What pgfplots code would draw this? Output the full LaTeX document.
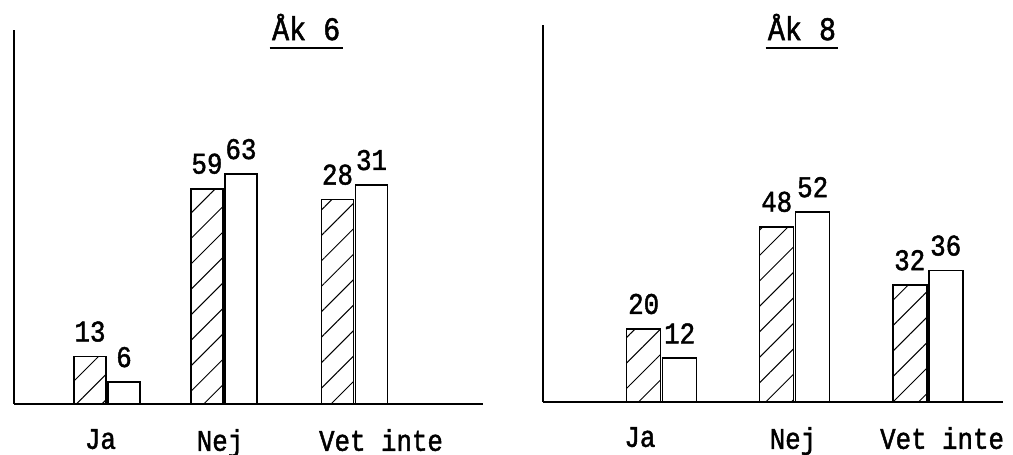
\documentclass[border=0pt]{standalone}
\usepackage{fontspec}
\setmainfont{Liberation Mono}[FakeBold=1.5, FakeStretch=0.86]
\usepackage{pgfplots}
\pgfplotsset{compat=1.18}
\usetikzlibrary{patterns.meta}
\newcommand{\tw}{\fontsize{15}{17}\selectfont}
\pgfplotsset{
  panel/.style={
    anchor=south west, scale only axis,
    ymin=0,
    axis x line=bottom, axis y line=left,
    axis line style={-, line width=0.6pt},
    ytick=\empty, xticklabels={Ja,Nej,Vet inte},
    major tick length=0pt,
    xticklabel style={font=\tw, yshift=-9pt},
    ybar=1pt,
    /pgf/number format/assume math mode=true,
    point meta=explicit,
    nodes near coords,
    nodes near coords style={font=\tw, inner sep=0pt, anchor=south, yshift=7pt},
    clip=false,
  },
  hatched/.style={draw=black, line width=0.8pt, pattern={Lines[angle=45,distance=9pt,line width=0.5pt]}},
  plain/.style={draw=black, line width=0.8pt, fill=white},
}
\begin{document}
\begin{tikzpicture}
\path[use as bounding box] (0,0) rectangle (506.5pt,227.5pt);
% Åk 6
\begin{axis}[panel,
  at={(7pt,25.5pt)}, width=234.5pt, height=187pt,
  xtick={-0.053,0.913,2.214},
  xmin=-0.7515, xmax=3.038, ymax=102.5, bar width=16pt]
\addplot[hatched] coordinates {(0,13) [13] (0.945,59) [59] (2,56) [28]};
\addplot[plain] coordinates {(0,6) [6] (0.945,63) [63] (2,60) [31]};
\node[anchor=base, inner sep=0pt, font=\fontsize{16.5}{19}\selectfont] (t6) at (rel axis cs:0.623,0.973) {Åk 6};
\draw[line width=1.3pt] ([xshift=-1pt,yshift=-4pt]t6.base west) -- ([xshift=1pt,yshift=-4pt]t6.base east);
\end{axis}
% Åk 8
\begin{axis}[panel,
  at={(271.5pt,26.5pt)}, width=230pt, height=188.5pt,
  xtick={-0.163,0.987,2.108},
  xmin=-0.892, xmax=2.566, ymax=103.3, bar width=17pt]
\addplot[hatched] coordinates {(0,20) [20] (1,48) [48] (2,32) [32]};
\addplot[plain] coordinates {(0,12) [12] (1,52) [52] (2,36) [36]};
\node[anchor=base, inner sep=0pt, font=\fontsize{16.5}{19}\selectfont] (t8) at (rel axis cs:0.563,0.96) {Åk 8};
\draw[line width=1.3pt] ([xshift=-1pt,yshift=-4pt]t8.base west) -- ([xshift=1pt,yshift=-4pt]t8.base east);
\end{axis}
\end{tikzpicture}
\end{document}
